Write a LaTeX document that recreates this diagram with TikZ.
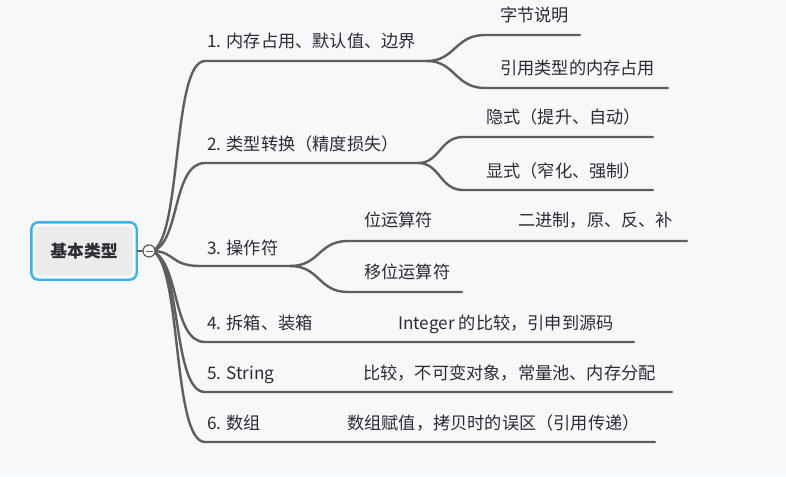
\documentclass[tikz,border=0pt]{standalone}
\usepackage{fontspec}
\newfontfamily\cjk{Noto Sans CJK SC}
\usetikzlibrary{positioning}

\definecolor{bgcol}{HTML}{F7F8FA}
\definecolor{linecol}{HTML}{5E5E5E}
\definecolor{txtcol}{HTML}{2B2B33}
\definecolor{rootblue}{HTML}{33B5F2}
\definecolor{rootfill}{HTML}{EBEBEB}

\begin{document}
\begin{tikzpicture}[
            x = 1pt, y = -1pt, % pixel grid, y runs downwards
            branch/.style = {draw = linecol, line width = 2.4pt, line cap = round},
            topic/.style = {anchor = base west, inner sep = 0pt, text = txtcol,
                font = \cjk\fontsize{17.2}{19}\selectfont}
        ]

        \tikzstyle{rootbox}=[
            rounded corners = 6pt,
            fill = rootfill,
            minimum width = 97pt,
            minimum height = 49pt,
            text = txtcol,
            font = \cjk\bfseries\fontsize{16.8}{19}\selectfont
        ]
        \tikzstyle{fold}=[
            circle,
            draw = linecol,
            fill = white,
            line width = 1.2pt,
            minimum size = 12pt,
            inner sep = 0pt
        ]

        \fill[bgcol] (0,0) rectangle (786,476);
        \useasboundingbox (0,0) rectangle (786,476);

        % root
        \node[rootbox] (root) at (84,251) {基本类型};
        \draw[rootblue, line width = 2.4pt, rounded corners = 7pt]
            ([shift={(-4,4)}]root.south west) rectangle ([shift={(4,-4)}]root.north east);

        % branch ends
        \coordinate (f) at (152,251);
        \coordinate (b1) at (205,61);   \coordinate (s1) at (427,61);
        \coordinate (b2) at (205,163);  \coordinate (s2) at (418,163);
        \coordinate (b3) at (200,266);  \coordinate (s3) at (290,266);
        \coordinate (b4) at (205,342);  \coordinate (e4) at (634,342);
        \coordinate (b5) at (205,392);  \coordinate (e5) at (672,392);
        \coordinate (b6) at (205,442);  \coordinate (e6) at (655,442);

        \coordinate (a1) at (485,35);   \coordinate (a1e) at (580,35);
        \coordinate (c1) at (485,88);   \coordinate (c1e) at (668,88);
        \coordinate (a2) at (463,137);  \coordinate (a2e) at (653,137);
        \coordinate (c2) at (463,190);  \coordinate (c2e) at (653,190);
        \coordinate (a3) at (348,241);  \coordinate (a3e) at (687,241);
        \coordinate (c3) at (348,292);  \coordinate (c3e) at (462,292);

        % main branches
        \draw[branch] (f) .. controls (182,240) and (172,61) .. (b1) -- (s1);
        \draw[branch] (f) .. controls (180,245) and (172,163) .. (b2) -- (s2);
        \draw[branch] (f) .. controls (175,251) and (170,266) .. (b3) -- (s3);
        \draw[branch] (f) .. controls (180,262) and (172,342) .. (b4) -- (e4);
        \draw[branch] (f) .. controls (182,262) and (172,392) .. (b5) -- (e5);
        \draw[branch] (f) .. controls (182,262) and (172,442) .. (b6) -- (e6);

        % sub branches
        \draw[branch] (s1) .. controls (455,61) and (455,35) .. (a1) -- (a1e);
        \draw[branch] (s1) .. controls (455,61) and (455,88) .. (c1) -- (c1e);
        \draw[branch] (s2) .. controls (440,163) and (440,137) .. (a2) -- (a2e);
        \draw[branch] (s2) .. controls (440,163) and (440,190) .. (c2) -- (c2e);
        \draw[branch] (s3) .. controls (320,266) and (318,241) .. (a3) -- (a3e);
        \draw[branch] (s3) .. controls (320,266) and (318,292) .. (c3) -- (c3e);

        % fold button
        \draw[linecol, line width = 1.6pt] ([xshift=4pt]root.east) -- (f);
        \node[fold] (fold) at (149,251) {};
        \draw[linecol, line width = 1pt] ([xshift=-3.5pt]fold.center) -- ([xshift=3.5pt]fold.center);

        % texts
        \node[topic] (t1) at (207,48) {1. 内存占用、默认值、边界};
        \node[topic] (t1a) at (500,22) {字节说明};
        \node[topic] (t1b) at (500,75) {引用类型的内存占用};
        \node[topic] (t2) at (207,150) {2. 类型转换（精度损失）};
        \node[topic] (t2a) at (486,124) {隐式（提升、自动）};
        \node[topic] (t2b) at (486,177) {显式（窄化、强制）};
        \node[topic] (t3) at (207,254) {3. 操作符};
        \node[topic] (t3a) at (364,226) {位运算符};
        \node[topic] (t3aa) at (518,226) {二进制，原、反、补};
        \node[topic] (t3b) at (364,278) {移位运算符};
        \node[topic] (t4) at (207,329) {4. 拆箱、装箱};
        \node[topic] (t4a) at (398,329) {Integer 的比较，引申到源码};
        \node[topic] (t5) at (207,379) {5. String};
        \node[topic] (t5a) at (363,379) {比较，不可变对象，常量池、内存分配};
        \node[topic] (t6) at (207,429) {6. 数组};
        \node[topic] (t6a) at (347,429) {数组赋值，拷贝时的误区（引用传递）};

    \end{tikzpicture}
\end{document}
